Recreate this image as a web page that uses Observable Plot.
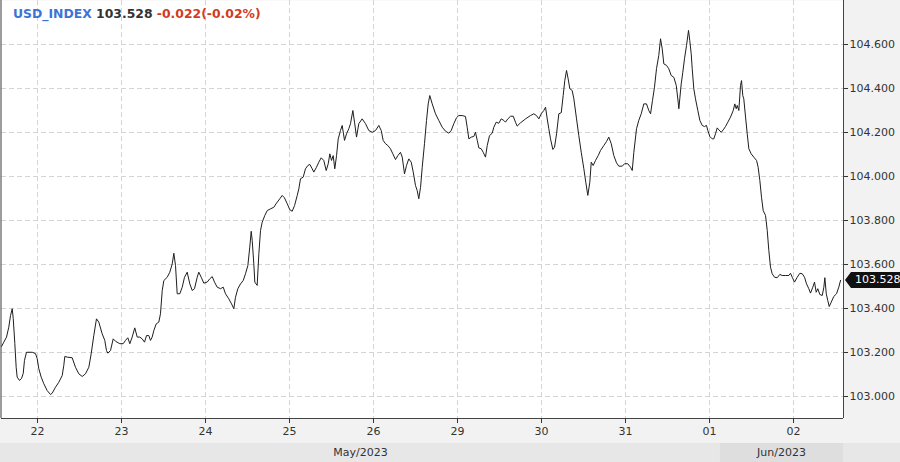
<!DOCTYPE html>
<html><head><meta charset="utf-8">
<script src="https://cdn.jsdelivr.net/npm/d3@7"></script>
<script src="https://cdn.jsdelivr.net/npm/@observablehq/plot@0.6"></script>
<style>
html,body{margin:0;padding:0;background:#f2f2f2;}
#wrap{position:relative;width:900px;height:462px;background:#f2f2f2;overflow:hidden;}
#wrap svg{position:absolute;left:0;top:0;}
#title{position:absolute;left:13px;top:6px;font:bold 12.4px "DejaVu Sans",sans-serif;white-space:pre;z-index:2;}
#marker{position:absolute;height:16px;background:#111;color:#fff;font:11px "DejaVu Sans",sans-serif;line-height:16px;padding-left:4px;box-sizing:border-box;z-index:3;}
#arrow{position:absolute;width:0;height:0;border-top:8px solid transparent;border-bottom:8px solid transparent;border-right:6px solid #111;z-index:3;}
</style></head>
<body><div id="wrap"><div id="title"></div><div id="arrow"></div><div id="marker"></div></div>
<script>
const symbol = "USD_INDEX";
const lastPrice = 103.528;
const changeText = "-0.022(-0.02%)";
const dayTicks = [0,1,2,3,4,5,6,7,8,9];
const dayLabels = ["22","23","24","25","26","29","30","31","01","02"];
const yTicks = [103.0,103.2,103.4,103.6,103.8,104.0,104.2,104.4,104.6];
const monthLabels = ["May/2023","Jun/2023"];
const monthStarts = [-0.4286, 8.13];
const monthEnds = [8.13, 9.595];

// time in trading days from May 22 00:00, value of the index
const times = [
-0.429,-0.401,-0.369,-0.342,-0.321,-0.301,-0.289,-0.270,-0.254,-0.242,
-0.214,-0.190,-0.170,-0.155,-0.131,-0.063,-0.024,-0.004,0.015,0.044,
0.075,0.115,0.155,0.175,0.214,0.254,0.294,0.313,0.325,0.354,
0.413,0.452,0.492,0.532,0.571,0.611,0.639,0.670,0.702,0.730,
0.770,0.801,0.821,0.837,0.869,0.901,0.929,0.980,1.020,1.048,
1.075,1.099,1.127,1.158,1.187,1.218,1.246,1.274,1.298,1.325,
1.345,1.365,1.385,1.413,1.444,1.464,1.485,1.504,1.544,1.575,
1.604,1.623,1.643,1.663,1.694,1.723,1.750,1.782,1.813,1.842,
1.869,1.901,1.920,1.949,1.980,2.020,2.051,2.080,2.107,2.139,
2.179,2.211,2.238,2.277,2.310,2.337,2.357,2.385,2.417,2.449,
2.476,2.504,2.527,2.544,2.556,2.575,2.587,2.615,2.635,2.655,
2.675,2.706,2.735,2.774,2.813,2.845,2.885,2.913,2.940,2.973,
3.004,3.032,3.060,3.092,3.111,3.131,3.163,3.190,3.218,3.242,
3.270,3.289,3.321,3.349,3.377,3.408,3.437,3.461,3.480,3.500,
3.520,3.539,3.560,3.580,3.607,3.627,3.655,3.679,3.706,3.726,
3.754,3.774,3.798,3.825,3.865,3.905,3.944,3.985,4.024,4.063,
4.092,4.115,4.143,4.170,4.202,4.230,4.262,4.290,4.321,4.342,
4.369,4.393,4.420,4.449,4.473,4.500,4.520,4.539,4.560,4.580,
4.607,4.631,4.651,4.670,4.699,4.738,4.777,4.818,4.857,4.896,
4.925,4.956,4.988,5.015,5.056,5.095,5.115,5.135,5.163,5.194,
5.214,5.235,5.254,5.282,5.306,5.333,5.354,5.381,5.413,5.432,
5.461,5.492,5.520,5.551,5.571,5.599,5.631,5.663,5.690,5.710,
5.750,5.810,5.869,5.908,5.940,5.968,5.996,6.027,6.048,6.068,
6.087,6.107,6.135,6.155,6.179,6.206,6.235,6.258,6.277,6.298,
6.317,6.337,6.365,6.385,6.417,6.444,6.473,6.504,6.527,6.551,
6.575,6.592,6.615,6.643,6.675,6.702,6.742,6.774,6.801,6.830,
6.861,6.893,6.920,6.961,6.988,7.027,7.060,7.080,7.099,7.131,
7.158,7.187,7.218,7.250,7.277,7.298,7.321,7.345,7.369,7.396,
7.417,7.437,7.456,7.488,7.515,7.544,7.575,7.604,7.627,7.635,
7.646,7.663,7.682,7.702,7.726,7.750,7.765,7.782,7.794,7.813,
7.833,7.861,7.885,7.913,7.940,7.964,7.980,8.004,8.032,8.051,
8.071,8.092,8.111,8.139,8.163,8.190,8.218,8.250,8.282,8.301,
8.318,8.330,8.349,8.369,8.381,8.396,8.408,8.429,8.449,8.468,
8.496,8.527,8.560,8.579,8.599,8.619,8.639,8.667,8.687,8.706,
8.726,8.746,8.774,8.806,8.837,8.865,8.905,8.944,8.964,8.985,
9.012,9.044,9.075,9.104,9.131,9.155,9.182,9.202,9.230,9.250,
9.270,9.289,9.313,9.342,9.361,9.373,9.390,9.408,9.425,9.449,
9.480,9.512,9.539,9.560
];
const values = [
103.227,103.247,103.270,103.315,103.368,103.399,103.355,103.241,103.133,103.088,
103.073,103.082,103.105,103.164,103.201,103.201,103.195,103.173,103.127,103.088,
103.058,103.027,103.009,103.015,103.042,103.065,103.095,103.141,103.182,103.179,
103.176,103.133,103.103,103.091,103.103,103.133,103.194,103.277,103.353,103.338,
103.285,103.255,103.209,103.197,103.209,103.262,103.251,103.240,103.240,103.255,
103.267,103.240,103.270,103.312,103.270,103.270,103.262,103.247,103.277,103.277,
103.255,103.270,103.300,103.330,103.338,103.376,103.482,103.527,103.542,103.565,
103.603,103.651,103.595,103.467,103.467,103.497,103.542,103.565,103.512,103.482,
103.490,103.542,103.565,103.542,103.515,103.520,103.535,103.545,103.520,103.497,
103.490,103.497,103.467,103.444,103.421,103.399,103.451,103.490,103.512,103.527,
103.558,103.595,103.679,103.751,103.709,103.603,103.520,103.505,103.649,103.755,
103.792,103.823,103.845,103.853,103.860,103.879,103.899,103.914,103.903,103.876,
103.849,103.842,103.868,103.914,103.944,103.990,103.997,104.035,104.050,104.055,
104.035,104.020,104.042,104.065,104.085,104.073,104.027,104.058,104.103,104.073,
104.095,104.035,104.095,104.171,104.209,104.232,104.164,104.194,104.217,104.240,
104.300,104.247,104.179,104.240,104.262,104.240,104.209,104.201,104.209,104.232,
104.209,104.164,104.149,104.141,104.126,104.103,104.077,104.095,104.110,104.088,
104.012,104.050,104.080,104.065,104.020,103.959,103.936,103.899,103.951,104.042,
104.149,104.255,104.330,104.368,104.330,104.285,104.255,104.224,104.206,104.197,
104.209,104.240,104.267,104.277,104.277,104.273,104.224,104.171,104.179,104.182,
104.201,104.164,104.130,104.126,104.110,104.088,104.141,104.186,104.197,104.224,
104.247,104.242,104.262,104.255,104.247,104.262,104.274,104.274,104.247,104.229,
104.244,104.262,104.277,104.285,104.277,104.262,104.285,104.300,104.315,104.262,
104.217,104.171,104.123,104.133,104.194,104.285,104.290,104.368,104.436,104.482,
104.444,104.399,104.391,104.353,104.262,104.186,104.110,104.035,103.974,103.914,
103.974,104.065,104.050,104.073,104.095,104.118,104.141,104.159,104.179,104.149,
104.095,104.062,104.047,104.047,104.058,104.058,104.042,104.027,104.110,104.217,
104.255,104.285,104.330,104.330,104.300,104.285,104.345,104.406,104.490,104.550,
104.626,104.580,104.512,104.505,104.490,104.459,104.451,104.414,104.338,104.308,
104.353,104.421,104.474,104.535,104.595,104.664,104.618,104.558,104.490,104.399,
104.353,104.300,104.255,104.232,104.227,104.232,104.209,104.182,104.171,104.171,
104.194,104.221,104.212,104.201,104.212,104.227,104.247,104.270,104.300,104.330,
104.308,104.323,104.300,104.414,104.436,104.368,104.353,104.270,104.194,104.126,
104.103,104.088,104.073,104.042,103.982,103.906,103.845,103.823,103.755,103.664,
103.588,103.558,103.542,103.540,103.555,103.550,103.550,103.550,103.560,103.542,
103.520,103.542,103.560,103.558,103.542,103.512,103.490,103.470,103.497,103.520,
103.474,103.490,103.464,103.459,103.497,103.540,103.467,103.436,103.409,103.429,
103.455,103.467,103.497,103.528
];

const data = times.map((t, i) => ({t, v: values[i]}));
const xDomain = [monthStarts[0], monthEnds[1]];
const yDomain = [102.9, 104.8];
const font = '"DejaVu Sans", sans-serif';

const plot = Plot.plot({
  width: 900, height: 462,
  marginTop: 0, marginLeft: 1, marginRight: 57, marginBottom: 44,
  style: {background: "transparent", fontFamily: font, fontSize: "11px", color: "#333", overflow: "visible"},
  x: {type: "linear", domain: xDomain},
  y: {domain: yDomain},
  marks: [
    Plot.frame({fill: "white", stroke: null}),
    Plot.gridY(yTicks, {stroke: "#d4d4d4", strokeOpacity: 1, strokeDasharray: "5,3"}),
    Plot.gridX(dayTicks, {stroke: "#d4d4d4", strokeOpacity: 1, strokeDasharray: "5,3"}),
    Plot.line(data, {x: "t", y: "v", stroke: "#1e1e1e", strokeWidth: 1, clip: true}),
    Plot.ruleX([xDomain[0]], {stroke: "#444", dx: -0.5}),
    Plot.ruleX([xDomain[1]], {stroke: "#444"}),
    Plot.ruleY([yDomain[0]], {stroke: "#444"}),
    Plot.axisY(yTicks, {anchor: "right", tickSize: 4, tickPadding: 2, label: null,
      tickFormat: d => d.toFixed(3), color: "#333", fontSize: 11}),
    Plot.axisX(dayTicks, {anchor: "bottom", tickSize: 5, tickPadding: 4, label: null,
      tickFormat: d => dayLabels[dayTicks.indexOf(d)], color: "#333", fontSize: 11})
  ]
});

const wrap = document.getElementById("wrap");
wrap.insertBefore(plot, wrap.firstChild);

const xs = plot.scale("x"), ys = plot.scale("y");
const svg = d3.select(plot);
const band = svg.insert("g", ":first-child");
band.append("rect").attr("x", 0).attr("y", 443).attr("width", 900).attr("height", 19).attr("fill", "#e7e7e7");
band.append("rect").attr("x", xs.apply(monthStarts[1])).attr("y", 443)
  .attr("width", xs.apply(monthEnds[1]) - xs.apply(monthStarts[1])).attr("height", 19).attr("fill", "#dedede");
const ml = svg.append("g").attr("font-family", font).attr("font-size", 11).attr("fill", "#333");
monthLabels.forEach((m, i) => {
  ml.append("text").attr("x", (xs.apply(monthStarts[i]) + xs.apply(monthEnds[i])) / 2)
    .attr("y", 456).attr("text-anchor", "middle").text(m);
});

// last value marker (HTML overlay positioned with the plot's scales)
const ly = ys.apply(lastPrice);
const x0 = xs.apply(xDomain[1]) + 2;
const arrow = document.getElementById("arrow");
arrow.style.left = x0 + "px";
arrow.style.top = (ly - 8) + "px";
const marker = document.getElementById("marker");
marker.style.left = (x0 + 6) + "px";
marker.style.top = (ly - 8) + "px";
marker.style.width = (900 - x0 - 6) + "px";
marker.textContent = lastPrice.toFixed(3);

document.getElementById("title").innerHTML =
  `<span style="color:#3b73d9">${symbol}</span> <span style="color:#333">${lastPrice.toFixed(3)}</span> <span style="color:#d23b1e">${changeText}</span>`;
</script>
</body></html>
